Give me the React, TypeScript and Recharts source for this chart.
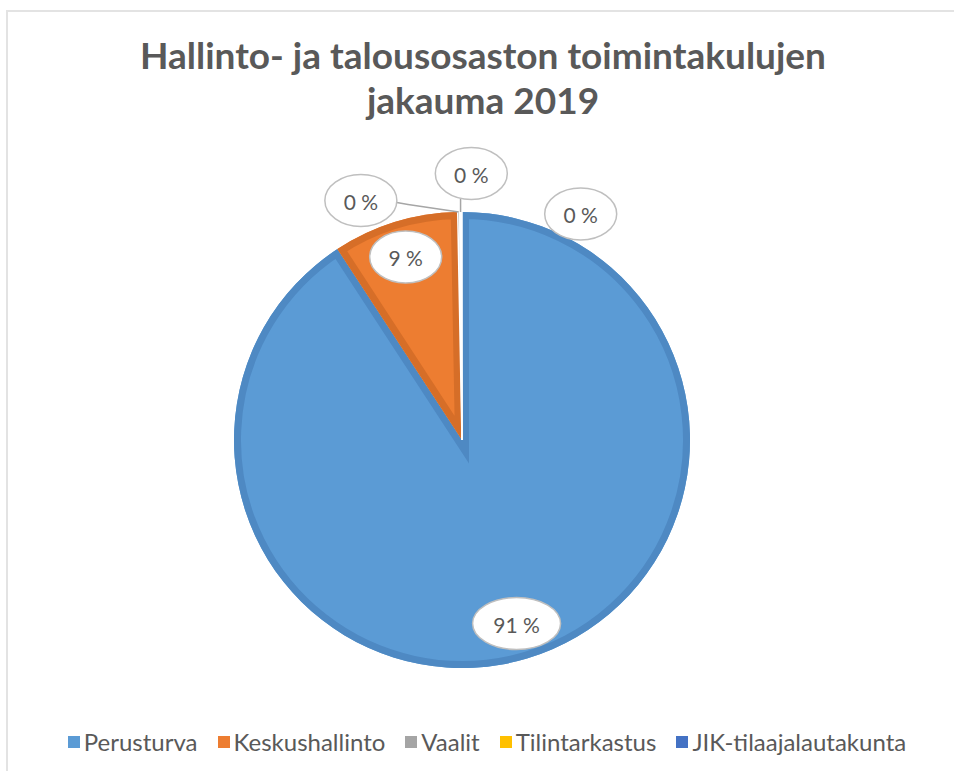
import React from "react";
import { PieChart, Pie, Cell, Legend, Sector } from "recharts";

const categories = ["Perusturva", "Keskushallinto", "Vaalit", "Tilintarkastus", "JIK-tilaajalautakunta"];
const values = [90.8, 8.9, 0.15, 0.1, 0.05];
const colors = ["#5B9BD5", "#ED7D31", "#A5A5A5", "#FFC000", "#4472C4"];
const darkColors = ["#4E89C3", "#D66E28", "#8F8F8F", "#E0A800", "#3A63AD"];
const title = ["Hallinto- ja talousosaston toimintakulujen", "jakauma 2019"];

const data = categories.map((name, i) => ({ name, value: values[i] }));

const FONT = "Lato, 'Noto Sans', sans-serif";
const TEXT = "#595959";
const RAD = Math.PI / 180;

// label placement for tiny slices: [angle(deg), radius factor, leader type]
const outsidePlacement: Record<number, { angle: number; f: number; leader: string }> = {
  2: { angle: 112.9, f: 1.14, leader: "knee" },
  3: { angle: 88, f: 1.17, leader: "vertical" },
  4: { angle: 62.3, f: 1.12, leader: "none" },
};

const renderShape = (props: any) => {
  const { cx, cy, innerRadius, outerRadius, startAngle, endAngle, index } = props;
  const small = Math.abs(endAngle - startAngle) < 3;
  const id = `clip-slice-${index}`;
  const sp = { cx, cy, innerRadius, outerRadius, startAngle, endAngle };
  if (small) {
    return <Sector {...sp} fill={colors[index]} stroke="#ffffff" strokeWidth={1.5} />;
  }
  return (
    <g>
      <defs>
        <clipPath id={id}>
          <Sector {...sp} />
        </clipPath>
      </defs>
      <Sector {...sp} fill={colors[index]} stroke="none" />
      <Sector {...sp} fill="none" stroke={darkColors[index]} strokeWidth={14} clipPath={`url(#${id})`} />
    </g>
  );
};

const renderLabel = (props: any) => {
  const { cx, cy, midAngle, outerRadius, percent, index } = props;
  const text = `${Math.round(percent * 100)} %`;
  const rx = text.length > 3 ? 44 : 36;
  const ry = 26;
  let lx: number, ly: number;
  let leader: React.ReactNode = null;
  const place = outsidePlacement[index];
  if (place) {
    lx = cx + outerRadius * place.f * Math.cos(place.angle * RAD);
    ly = cy - outerRadius * place.f * Math.sin(place.angle * RAD);
    const px = cx + outerRadius * Math.cos(midAngle * RAD);
    const py = cy - outerRadius * Math.sin(midAngle * RAD);
    if (place.leader === "knee") {
      const kx = cx + outerRadius * 1.06 * Math.cos(102.9 * RAD);
      const ky = cy - outerRadius * 1.06 * Math.sin(102.9 * RAD);
      leader = <polyline points={`${px},${py} ${kx},${ky} ${lx + rx},${ly + 2}`} fill="none" stroke="#A6A6A6" strokeWidth={1.5} />;
    } else if (place.leader === "vertical") {
      leader = <line x1={px} y1={py} x2={px} y2={ly + ry - 1} stroke="#A6A6A6" strokeWidth={1.5} />;
    }
  } else {
    lx = cx + outerRadius * 0.84 * Math.cos(midAngle * RAD);
    ly = cy - outerRadius * 0.84 * Math.sin(midAngle * RAD);
  }
  return (
    <g>
      {leader}
      <ellipse cx={lx} cy={ly} rx={rx} ry={ry} fill="#ffffff" stroke="#BFBFBF" strokeWidth={1.5} />
      <text x={lx} y={ly + 1} textAnchor="middle" dominantBaseline="central" fill={TEXT} fontFamily={FONT} fontSize={21}>
        {text}
      </text>
    </g>
  );
};

const renderLegend = () => (
  <div style={{ display: "flex", justifyContent: "center", gap: 20, fontFamily: FONT, fontSize: 24, color: TEXT }}>
    {categories.map((c, i) => (
      <div key={c} style={{ display: "flex", alignItems: "center" }}>
        <span style={{ display: "inline-block", width: 12, height: 12, background: colors[i], marginRight: 4 }} />
        <span>{c}</span>
      </div>
    ))}
  </div>
);

export default function App() {
  return (
    <div style={{ position: "absolute", left: 0, top: 0, width: 954, height: 771, overflow: "hidden", background: "#fff" }}>
      <div style={{ position: "absolute", left: 6, top: 10, width: 1000, height: 1000, borderLeft: "2px solid #E3E3E3", borderTop: "2px solid #E3E3E3" }} />
      <div style={{ position: "absolute", left: 0, top: 32, width: 966, textAlign: "center", fontFamily: FONT, fontWeight: 700, fontSize: 37, lineHeight: "45px", color: TEXT }}>
        <div>{title[0]}</div>
        <div>{title[1]}</div>
      </div>
      <div style={{ position: "absolute", left: 0, top: 0 }}>
        <PieChart width={954} height={771}>
          <Pie
            data={data}
            dataKey="value"
            nameKey="name"
            cx={457}
            cy={435}
            outerRadius={228}
            startAngle={90}
            endAngle={-270}
            stroke="none"
            isAnimationActive={false}
            labelLine={false}
            label={renderLabel}
            shape={renderShape}
          >
            {data.map((d, i) => (
              <Cell key={d.name} fill={colors[i]} />
            ))}
          </Pie>
          <Legend content={renderLegend} wrapperStyle={{ position: "absolute", left: 0, top: 727, width: 974 }} />
        </PieChart>
      </div>
    </div>
  );
}
